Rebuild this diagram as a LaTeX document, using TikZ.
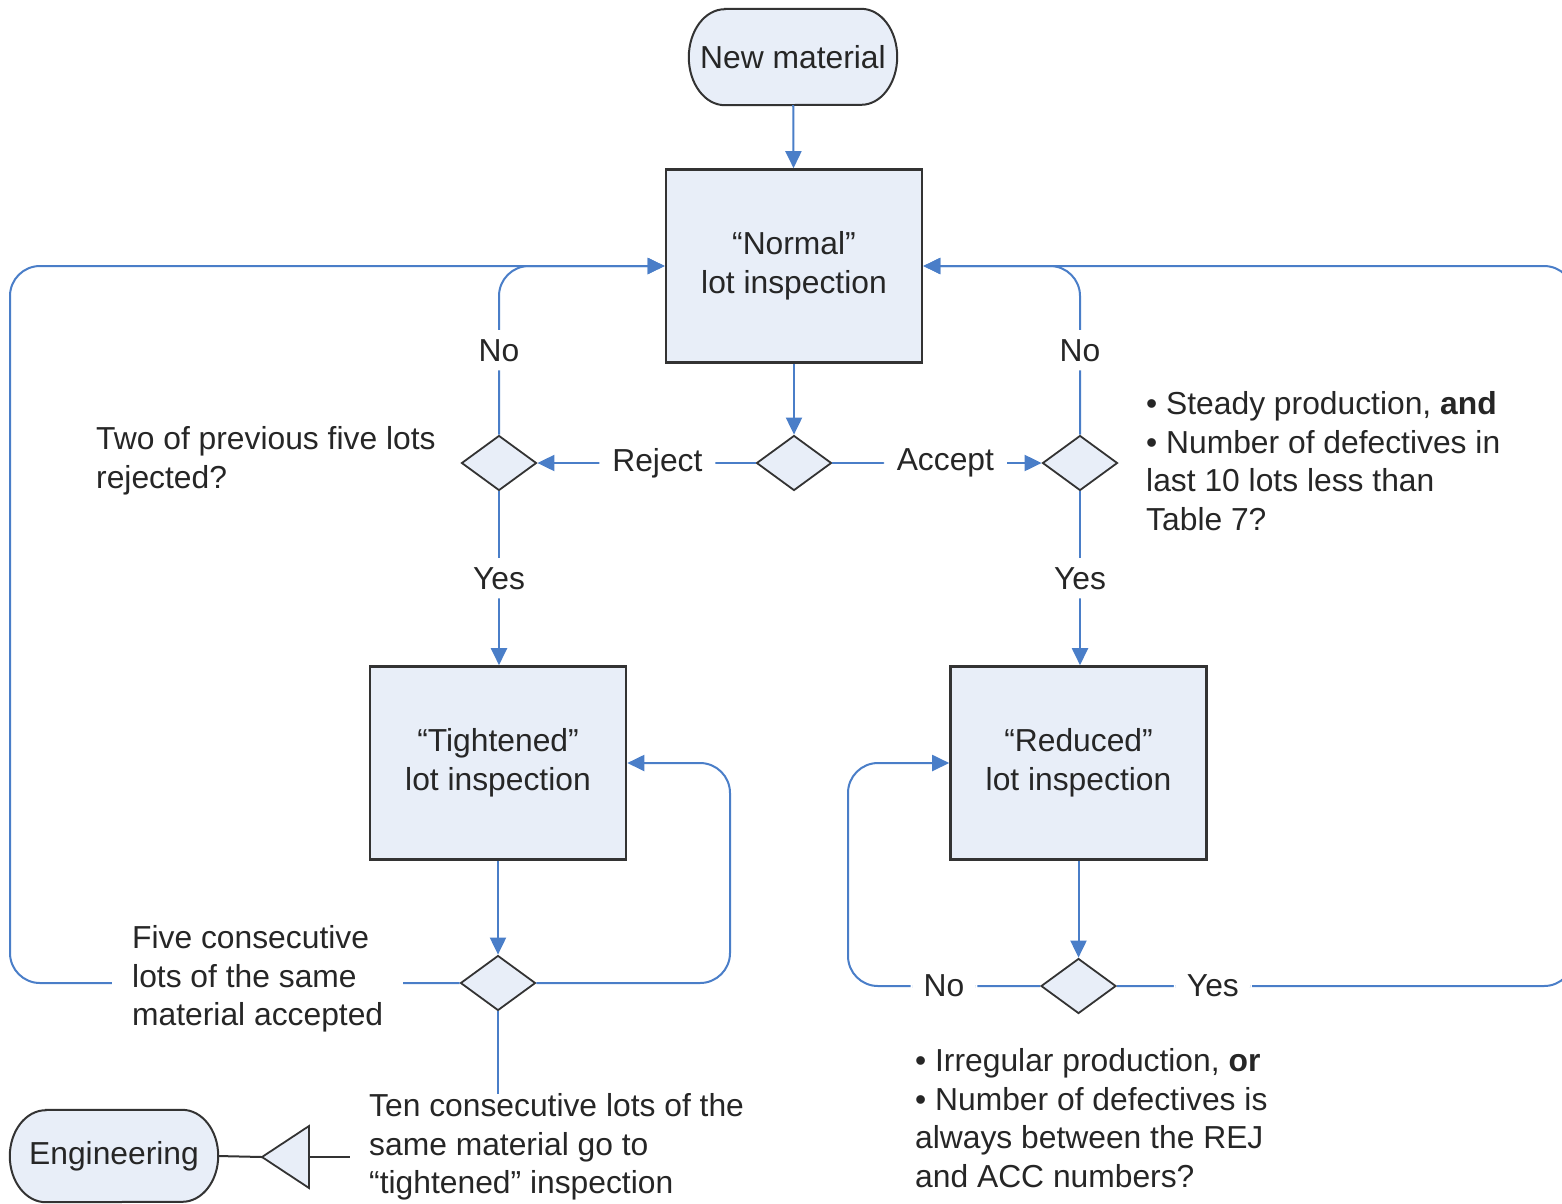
\documentclass[tikz,border=0pt]{standalone}
\usepackage{fontspec}
\setmainfont{Liberation Sans}
\usetikzlibrary{arrows.meta,shapes.geometric,calc}
\definecolor{flowblue}{HTML}{4A7EC8}
\definecolor{boxfill}{HTML}{E8EEF8}
\definecolor{edgegray}{HTML}{333333}
\definecolor{txt}{HTML}{262626}
\pgfdeclarelayer{background}
\pgfsetlayers{background,main}
\newcommand\termoutline[2]{%
  \begin{pgfonlayer}{background}
  \draw[termline] ([xshift=36pt]#1.north west) -- ([xshift=-36pt]#1.north east)
    arc[start angle=90,end angle=-90,x radius=36pt,y radius=#2]
    -- ([xshift=36pt]#1.south west)
    arc[start angle=270,end angle=90,x radius=36pt,y radius=#2] -- cycle;
  \end{pgfonlayer}}
\begin{document}
\begin{tikzpicture}[x=1pt,y=-1pt,
  every node/.style={font=\fontsize{31.8pt}{38.5pt}\selectfont, text=txt},
  procbox/.style={draw=edgegray, line width=2.6pt, fill=boxfill, minimum width=256pt, minimum height=193pt, align=center, inner sep=0pt},
  decision/.style={diamond, draw=edgegray, line width=1.8pt, fill=boxfill, minimum width=75pt, minimum height=55pt, inner sep=0pt, aspect=1.36},
  flow/.style={draw=flowblue, line width=2pt, rounded corners=30pt},
  arr/.style={-{Triangle[length=17pt,width=16pt]}},
  lbl/.style={fill=white, inner xsep=13pt, inner ysep=9pt},
  note/.style={align=left, inner sep=0pt},
  termtxt/.style={minimum width=208pt, inner sep=0pt},
  termline/.style={draw=edgegray, line width=2pt, fill=boxfill},
  blackline/.style={draw=edgegray, line width=2pt}
]
\useasboundingbox (0,0) rectangle (1562,1203);
\clip (0,0) rectangle (1562,1203);

% terminators
\node[termtxt, minimum height=96pt] (new) at (793,57) {New material};
\termoutline{new}{48pt}
\node[termtxt, minimum height=92pt] (eng) at (114,1156) {Engineering};
\termoutline{eng}{46pt}

% process boxes
\node[procbox] (nrm) at (794,266) {“Normal”\\lot inspection};
\node[procbox] (tight) at (498,763) {“Tightened”\\lot inspection};
\node[procbox] (red) at (1078.5,763) {“Reduced”\\lot inspection};

% decisions
\node[decision] (d0) at (794,463) {};
\node[decision] (dl) at (499,463) {};
\node[decision] (dr) at (1080,463) {};
\node[decision] (d3) at (498,983) {};
\node[decision] (d4) at (1078.5,986) {};

% loop corner helpers
\coordinate (lx) at (10,0);
\coordinate (tx) at (730,0);
\coordinate (rx) at (848,0);
\coordinate (rgt) at (1574,0);

% merge triangle
\coordinate (mtip) at (262,1157);
\coordinate (mbase) at (309,1157);
\draw[termline, line width=1.8pt] (mtip) -- (309,1126) -- (309,1188) -- cycle;

% straight flows
\draw[flow, arr] (new) -- (nrm);
\draw[flow, arr] (nrm) -- (d0);
\draw[flow, arr] (d0) -- node[lbl, pos=0.45] {Reject} (dl);
\draw[flow, arr] (d0) -- node[lbl, pos=0.54] {Accept} (dr);
\draw[flow, arr] (dl.south) -- node[lbl] {Yes} (dl.south |- tight.north);
\draw[flow, arr] (dr.south) -- node[lbl] {Yes} (dr.south |- red.north);
\draw[flow, arr] (tight.south) -- (tight.south |- d3.north);
\draw[flow, arr] (red.south) -- (red.south |- d4.north);

% loops
\draw[flow, arr] (d3.west) -- (d3.west -| lx) -- (nrm.west -| lx) -- (nrm.west);
\draw[flow, arr] (dl.north) -- node[lbl] {No} (dl.north |- nrm.west) -- (nrm.west);
\draw[flow, arr] (dr.north) -- node[lbl] {No} (dr.north |- nrm.east) -- (nrm.east);
\draw[flow, arr] (d3.east) -- (d3.east -| tx) -- (tight.east -| tx) -- (tight.east);
\draw[flow, arr] (d4.west) -- node[lbl] {No} (d4.west -| rx) -- (red.west -| rx) -- (red.west);
\draw[flow, arr] (d4.east) -- node[lbl, pos=0.21] {Yes} (d4.east -| rgt) -- (nrm.east -| rgt) -- (nrm.east);

% notes
\node[note, anchor=west] (q1) at (96,461) {Two of previous five lots\\rejected?};
\node[note, anchor=west] (q2) at (1146,461) {• Steady production, \textbf{and}\\• Number of defectives in\\last 10 lots less than\\Table 7?};
\node[note, anchor=west, fill=white, inner xsep=20pt, inner ysep=4pt] (five) at (112,979) {Five consecutive\\lots of the same\\material accepted};
\node[note, anchor=west, inner xsep=19pt] (ten) at (350,1147) {Ten consecutive lots of the\\same material go to\\“tightened” inspection};
\node[note, anchor=west] (q4) at (915,1118) {• Irregular production, \textbf{or}\\• Number of defectives is\\always between the REJ\\and ACC numbers?};

% bottom connectors
\draw[flow] (d3.south) -- (d3.south |- ten.north);
\draw[blackline] (mbase) -- (mbase -| ten.west);
\draw[blackline] (mtip) -- (eng.east);
\end{tikzpicture}
\end{document}
